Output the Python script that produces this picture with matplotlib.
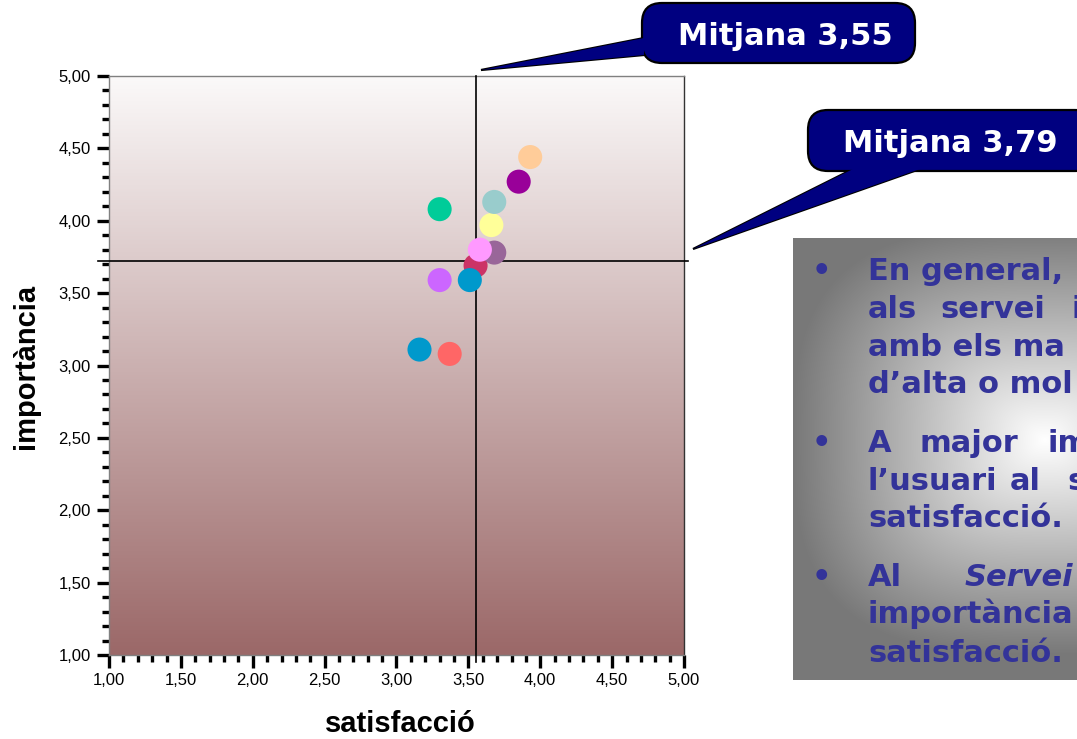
import numpy as np
import matplotlib
matplotlib.use('Agg')
import matplotlib.pyplot as plt
from matplotlib.patches import FancyBboxPatch, Polygon

# dades llegides del grafic (satisfaccio, importancia) per servei
satisfaccio = [3.37, 3.16, 3.30, 3.55, 3.51, 3.68, 3.58, 3.66, 3.68, 3.30, 3.85, 3.93]
importancia = [3.08, 3.11, 3.59, 3.69, 3.59, 3.78, 3.80, 3.97, 4.13, 4.08, 4.27, 4.44]
colors = ['#FF6666', '#0099CC', '#CC66FF', '#CC3366', '#0099CC', '#996699',
          '#FF99FF', '#FFFF99', '#99CCCC', '#00CC99', '#990099', '#FFCC99']

mitjana_x = 3.55
mitjana_y = 3.72
labels_mitjana = ['Mitjana 3,55', 'Mitjana 3,79']

ticks = [1.0, 1.5, 2.0, 2.5, 3.0, 3.5, 4.0, 4.5, 5.0]
tick_labels = ['1,00', '1,50', '2,00', '2,50', '3,00', '3,50', '4,00', '4,50', '5,00']

W, H = 1077, 739
fig = plt.figure(figsize=(W / 100, H / 100), dpi=100)
fig.patch.set_facecolor('white')

# eixos principals
ax = fig.add_axes([109 / W, 1 - 655 / H, 575 / W, 579 / H])

# fons en degradat
top = np.array([251, 249, 249]) / 255
bot = np.array([155, 104, 104]) / 255
t = np.linspace(0, 1, 256)[:, None]
grad = (top * (1 - t) + bot * t)[:, None, :]
ax.imshow(grad, extent=[0, 1, 0, 1], transform=ax.transAxes, aspect='auto',
          origin='upper', zorder=0)
ax.set_xlim(1, 5)
ax.set_ylim(1, 5)

ax.scatter(satisfaccio, importancia, s=300, c=colors, edgecolors='none', zorder=4)

# linies de la mitjana
ax.plot([0.92, 5.03], [mitjana_y, mitjana_y], color='black', lw=1.2, clip_on=False, zorder=3)
ax.plot([mitjana_x, mitjana_x], [0.95, 5.0], color='black', lw=1.2, clip_on=False, zorder=3)

ax.set_xticks(ticks)
ax.set_xticklabels(tick_labels)
ax.set_yticks(ticks)
ax.set_yticklabels(tick_labels)
ax.set_xticks(np.arange(1, 5.001, 0.1), minor=True)
ax.set_yticks(np.arange(1, 5.001, 0.1), minor=True)
ax.tick_params(which='major', length=9, width=2.4, direction='out', pad=4,
               labelsize=12, colors='black')
ax.tick_params(which='minor', length=5, width=2.4, direction='out')
for lab in ax.get_xticklabels() + ax.get_yticklabels():
    lab.set_family('Liberation Sans')

for side in ['left', 'top', 'bottom']:
    ax.spines[side].set_color('#808080')
    ax.spines[side].set_linewidth(1.0)
ax.spines['right'].set_color('#333333')
ax.spines['right'].set_linewidth(1.0)

ax.set_xlabel('satisfacció', fontsize=21, fontweight='bold', family='Liberation Sans')
ax.set_ylabel('importància', fontsize=21, fontweight='bold', family='Liberation Sans')
ax.xaxis.set_label_coords((400 - 109) / 575, (655 - 710) / 579)
ax.yaxis.set_label_coords((40 - 109) / 575, (655 - 366) / 579)

# capa de dibuix en pixels per a globus i requadre de text
ov = fig.add_axes([0, 0, 1, 1], zorder=5)
ov.set_facecolor('none')
ov.axis('off')

# requadre gris amb degradat radial
px0, px1, py0, py1 = 793, 1077, 238, 680
xs = np.arange(px0, px1) + 0.5
ys = np.arange(py0, py1) + 0.5
X, Y = np.meshgrid(xs, ys)
cx, cy, rx, ry = 1045, 440, 252, 215
d = ((np.abs(X - cx) / rx) ** 3 + (np.abs(Y - cy) / ry) ** 3) ** (1 / 3)
d = np.clip(d, 0, 1)
val = (120 + 135 * (1 - d)) / 255
panel = np.dstack([val, val, val])
ov.imshow(panel, extent=[px0, px1, py1, py0], origin='upper', aspect='auto', zorder=1)
ov.set_xlim(0, W)
ov.set_ylim(H, 0)

navy = '#000080'


def callout(box, wedge, text, tx, ty):
    x0, y0, x1, y1 = box
    ov.add_patch(Polygon(wedge, closed=True, facecolor=navy, edgecolor='black',
                         lw=1.6, zorder=2, clip_on=False))
    ov.add_patch(FancyBboxPatch((x0, y0), x1 - x0, y1 - y0,
                                boxstyle='round,pad=0,rounding_size=20',
                                facecolor=navy, edgecolor='black', lw=1.6,
                                zorder=3, clip_on=False))
    ov.add_patch(Polygon(wedge, closed=True, facecolor=navy, edgecolor='none',
                         zorder=4, clip_on=False))
    ov.text(tx, ty, text, color='white', fontsize=22, fontweight='bold',
            family='DejaVu Sans', ha='left', va='baseline', zorder=5)


callout((642, 3, 915, 63), [(481, 70), (644, 38), (644, 55)],
        labels_mitjana[0], 678, 45)
callout((808, 110, 1095, 171), [(693, 249), (853, 169), (920, 169)],
        labels_mitjana[1], 843, 152)

# text del requadre
blau = '#333399'
fs = 22
linies = [
    (280, [('En general,', 868, 'normal')]),
    (318, [('als', 868, 'normal'), ('servei', 940, 'normal'), ('i', 1072, 'normal')]),
    (356, [('amb els ma', 868, 'normal')]),
    (393, [('d’alta o mol', 868, 'normal')]),
    (452, [('A', 868, 'normal'), ('major', 920, 'normal'), ('im', 1047, 'normal')]),
    (490, [('l’usuari', 868, 'normal'), ('al', 1010, 'normal'), ('s', 1067, 'normal')]),
    (527, [('satisfacció.', 868, 'normal')]),
    (586, [('Al', 868, 'normal'), ('Servei', 965, 'italic')]),
    (623, [('importància', 868, 'normal')]),
    (662, [('satisfacció.', 868, 'normal')]),
]
for yb, words in linies:
    for w, xw, st in words:
        ov.text(xw, yb, w, color=blau, fontsize=fs, fontweight='bold', style=st,
                family='DejaVu Sans', ha='left', va='baseline', zorder=6)
for yb in [280, 452, 586]:
    ov.text(821, yb, '•', color=blau, fontsize=fs, fontweight='bold',
            family='DejaVu Sans', ha='center', va='baseline', zorder=6)

fig.savefig('out.png', dpi=100)
